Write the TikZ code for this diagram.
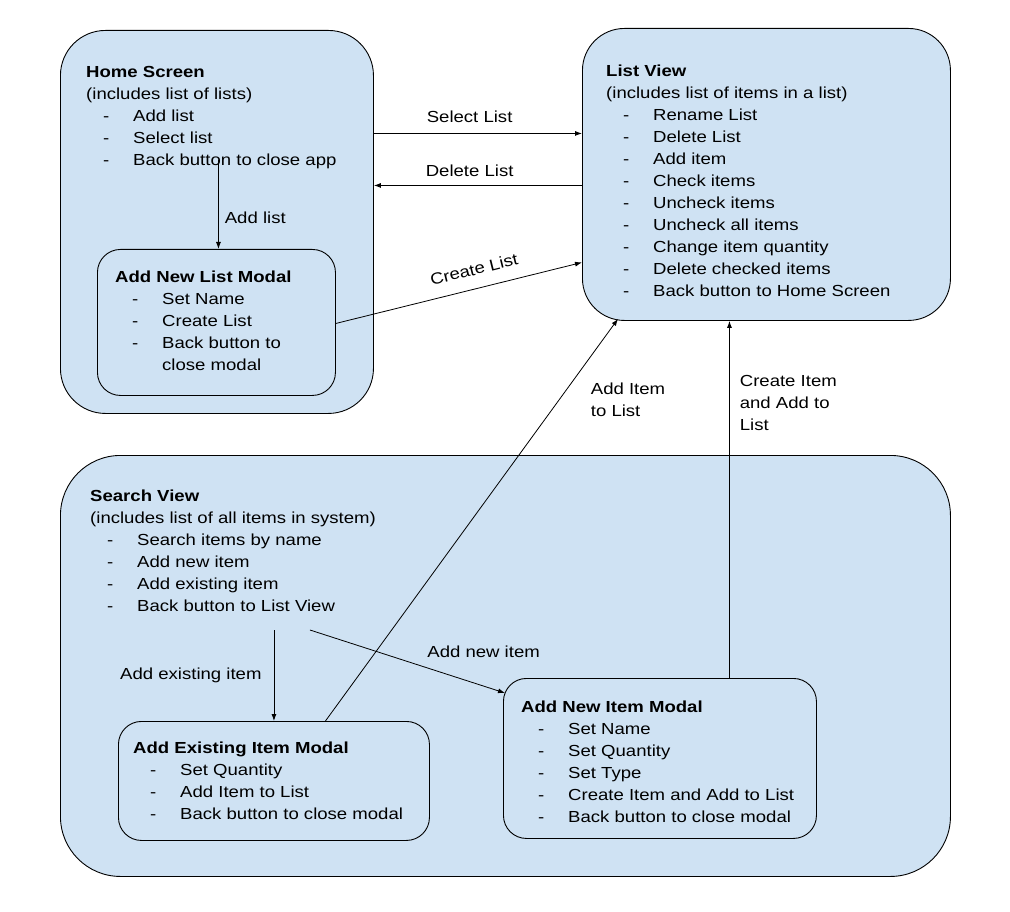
\documentclass[tikz,border=0pt]{standalone}
\usepackage{fontspec}
\setmainfont[FakeStretch=1.16]{Liberation Sans}
\usepackage{tikz}
\usetikzlibrary{arrows.meta}
\tikzset{>={Latex[width=5pt,length=7pt]}}
\definecolor{paleblue}{HTML}{CFE2F3}
\tikzset{
  screenbox/.style={shape=rectangle,draw=black,line width=0.9pt,fill=paleblue,inner sep=0pt,anchor=north west},
  screentext/.style={inner sep=0pt,anchor=north west,align=left,font=\fontsize{16}{22}\selectfont},
  link/.style={->,line width=0.8pt},
  linklabel/.style={inner sep=0pt,align=left,font=\fontsize{16}{22}\selectfont}
}
\newcommand{\entry}[1]{\hspace*{17pt}\makebox[30pt][l]{-}#1}

\begin{document}
\begin{tikzpicture}[x=1pt,y=-1pt]
\useasboundingbox (0,0) rectangle (1010,912);

% screens
\path (60,30) node [screenbox,rounded corners=45pt,minimum width=313pt,minimum height=383pt] (home) {};
\path (582,28) node [screenbox,rounded corners=42pt,minimum width=368pt,minimum height=292pt] (listv) {};
\path (97,249) node [screenbox,rounded corners=23pt,minimum width=238pt,minimum height=146pt] (newlist) {};
\path (60,455) node [screenbox,rounded corners=60pt,minimum width=890pt,minimum height=421pt] (search) {};
\path (118,721) node [screenbox,rounded corners=23pt,minimum width=311pt,minimum height=119pt] (existing) {};
\path (503,678) node [screenbox,rounded corners=23pt,minimum width=313pt,minimum height=160pt] (newitem) {};

% screen contents
\path ([xshift=26pt,yshift=-36pt]home.north west) node [screentext] (hometext)
  {\textbf{Home Screen}\\(includes list of lists)\\\entry{Add list}\\\entry{Select list}\\\entry{Back button to close app}};

\path ([xshift=24pt,yshift=-37pt]listv.north west) node [screentext] (listvtext)
  {\textbf{List View}\\(includes list of items in a list)\\\entry{Rename List}\\\entry{Delete List}\\\entry{Add item}\\\entry{Check items}\\\entry{Uncheck items}\\\entry{Uncheck all items}\\\entry{Change item quantity}\\\entry{Delete checked items}\\\entry{Back button to Home Screen}};

\path ([xshift=18pt,yshift=-22pt]newlist.north west) node [screentext] (newlisttext)
  {\textbf{Add New List Modal}\\\entry{Set Name}\\\entry{Create List}\\\entry{Back button to}\\\hspace*{47pt}close modal};

\path ([xshift=30pt,yshift=-35pt]search.north west) node [screentext] (searchtext)
  {\textbf{Search View}\\(includes list of all items in system)\\\entry{Search items by name}\\\entry{Add new item}\\\entry{Add existing item}\\\entry{Back button to List View}};

\path ([xshift=15pt,yshift=-21pt]existing.north west) node [screentext] (existingtext)
  {\textbf{Add Existing Item Modal}\\\entry{Set Quantity}\\\entry{Add Item to List}\\\entry{Back button to close modal}};

\path ([xshift=18pt,yshift=-23pt]newitem.north west) node [screentext] (newitemtext)
  {\textbf{Add New Item Modal}\\\entry{Set Name}\\\entry{Set Quantity}\\\entry{Set Type}\\\entry{Create Item and Add to List}\\\entry{Back button to close modal}};

% transitions
\draw [link] ([yshift=88.5pt]home.east) -- node [linklabel,pos=0.46,above=10pt] {Select List} ([yshift=41pt]listv.west);
\draw [link] ([yshift=-11pt]listv.west) -- node [linklabel,pos=0.54,above=8pt] {Delete List} ([yshift=36.5pt]home.east);
\draw [link] ([xshift=2pt,yshift=89pt]newlist.north) -- node [linklabel,pos=0.65,right=6pt] {Add list} ([xshift=2pt]newlist.north);
\draw [link] ([yshift=-1pt]newlist.east) -- node [linklabel,sloped,pos=0.58,above=13pt] {Create List} ([yshift=-88pt]listv.west);
\draw [link] ([xshift=51.5pt]existing.north) -- node [linklabel,pos=0.8,anchor=west,xshift=31pt] {Add Item\\to List} ([xshift=36pt,yshift=2pt]listv.south west);
\draw [link] ([xshift=69.5pt]newitem.north) -- node [linklabel,pos=0.77,right=10pt] {Create Item\\and Add to\\List} ([xshift=-37pt]listv.south);
\draw [link] ([yshift=91pt]existing.north) -- node [linklabel,midway,left=12pt] {Add existing item} (existing.north);
\draw [link] ([xshift=36pt,yshift=91pt]existing.north) -- node [linklabel,pos=0.6,anchor=south west,yshift=10pt] {Add new item} ([xshift=2pt,yshift=-15pt]newitem.north west);

\end{tikzpicture}
\end{document}
